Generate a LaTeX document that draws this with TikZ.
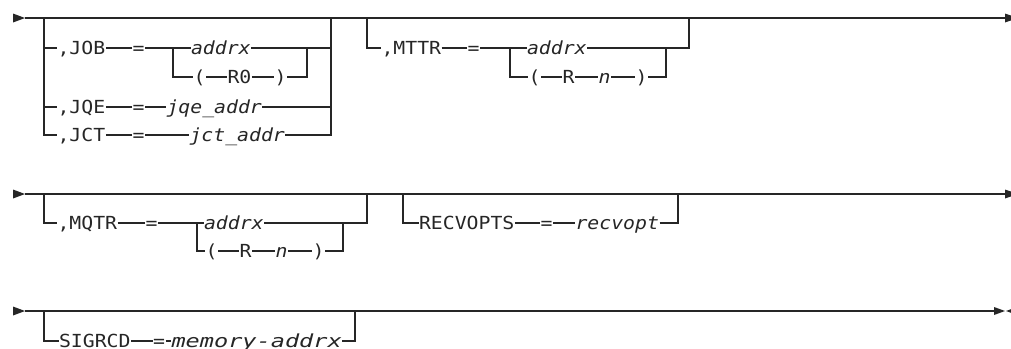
\documentclass[tikz,border=0pt]{standalone}
\usepackage{graphicx}
\usepackage{fontspec}
\newfontfamily\rr{DejaVu Sans Mono}[FakeStretch=1.1]
\begin{document}
\begin{tikzpicture}[x=1pt,y=-1pt,line width=1.1pt,color=black!85,
 kw/.style={inner sep=0pt,text height=13pt,text depth=0pt,anchor=west,font=\rr\fontsize{18}{20}\selectfont},
 vr/.style={kw,font=\rr\itshape\fontsize{18}{20}\selectfont}]
\useasboundingbox (0,0) rectangle (1011,348);
% ---------------- row 1 ----------------
\coordinate (a1) at (25,18); \coordinate (z1) at (1005,18);
\fill (13,13.5) -- (a1) -- (13,22.5) -- cycle;
\draw (a1) -- (z1);
\fill (z1) -- (1005,13.5) -- (1018,18) -- (1005,22.5) -- cycle;
% group 1
\coordinate (g1a) at (44,18); \coordinate (g1b) at (44,135);
\coordinate (g1c) at (331,18); \coordinate (g1d) at (331,135);
\coordinate (i1) at (173,48); \coordinate (i1r) at (307,48);
\node[kw] (job) at (57,48) {,JOB};
\node[kw] (eq1) at (132,48) {=};
\node[vr] (ax1) at (190.5,48) {addrx};
\node[kw] (lp1) at (193,77) {(};
\node[kw] (r0) at (227,77) {R0};
\node[kw] (rp1) at (274,77) {)};
\node[kw] (jqe) at (57,107) {,JQE};
\node[kw] (eq2) at (132,107) {=};
\node[vr] (jqev) at (166,107) {jqe\_addr};
\node[kw] (jct) at (57,135) {,JCT};
\node[kw] (eq3) at (132,135) {=};
\node[vr] (jctv) at (189,135) {jct\_addr};
\draw (g1a) -- (g1b) -- (jct.west);
\draw (g1a |- job.west) -- (job.west);
\draw (g1a |- jqe.west) -- (jqe.west);
\draw (job.east) -- (eq1.west);
\draw (eq1.east) -- (ax1.west);
\draw (i1) -- (i1 |- lp1.west) -- (lp1.west);
\draw (lp1.east) -- (r0.west);
\draw (r0.east) -- (rp1.west);
\draw (rp1.east) -- (i1r |- rp1.east) -- (i1r);
\draw (ax1.east) -- (g1c |- ax1.east);
\draw (jqe.east) -- (eq2.west);
\draw (eq2.east) -- (jqev.west);
\draw (jqev.east) -- (g1c |- jqev.east);
\draw (jct.east) -- (eq3.west);
\draw (eq3.east) -- (jctv.west);
\draw (jctv.east) -- (g1d) -- (g1c);
% group 2
\coordinate (g2a) at (367,18); \coordinate (g2c) at (689,18);
\coordinate (i2) at (510,48); \coordinate (i2r) at (666,48);
\node[kw] (mttr) at (381,48) {,MTTR};
\node[kw] (eq4) at (467,48) {=};
\node[vr] (ax2) at (526.5,48) {addrx};
\node[kw] (lp2) at (528,77) {(};
\node[kw] (r2) at (562,77) {R};
\node[vr] (n2) at (598,77) {n};
\node[kw] (rp2) at (635,77) {)};
\draw (g2a) -- (g2a |- mttr.west) -- (mttr.west);
\draw (mttr.east) -- (eq4.west);
\draw (eq4.east) -- (ax2.west);
\draw (ax2.east) -- (g2c |- ax2.east) -- (g2c);
\draw (i2) -- (i2 |- lp2.west) -- (lp2.west);
\draw (lp2.east) -- (r2.west);
\draw (r2.east) -- (n2.west);
\draw (n2.east) -- (rp2.west);
\draw (rp2.east) -- (i2r |- rp2.east) -- (i2r);
% ---------------- row 2 ----------------
\coordinate (a2) at (25,194); \coordinate (z2) at (1005,194);
\fill (13,189.5) -- (a2) -- (13,198.5) -- cycle;
\draw (a2) -- (z2);
\fill (z2) -- (1005,189.5) -- (1018,194) -- (1005,198.5) -- cycle;
% group 3
\coordinate (g3a) at (44,194); \coordinate (g3c) at (367,194);
\coordinate (i3) at (197,223); \coordinate (i3r) at (343,223);
\node[kw] (mqtr) at (57,223) {,MQTR};
\node[kw] (eq5) at (145,223) {=};
\node[vr] (ax3) at (203.5,223) {addrx};
\node[kw] (lp3) at (205,251) {(};
\node[kw] (r3) at (239,251) {R};
\node[vr] (n3) at (275,251) {n};
\node[kw] (rp3) at (312,251) {)};
\draw (g3a) -- (g3a |- mqtr.west) -- (mqtr.west);
\draw (mqtr.east) -- (eq5.west);
\draw (eq5.east) -- (ax3.west);
\draw (ax3.east) -- (g3c |- ax3.east) -- (g3c);
\draw (i3) -- (i3 |- lp3.west) -- (lp3.west);
\draw (lp3.east) -- (r3.west);
\draw (r3.east) -- (n3.west);
\draw (n3.east) -- (rp3.west);
\draw (rp3.east) -- (i3r |- rp3.east) -- (i3r);
% group 4
\coordinate (g4a) at (403,194); \coordinate (g4c) at (678,194);
\node[kw] (recv) at (418.5,223) {RECVOPTS};
\node[kw] (eq6) at (540,223) {=};
\node[vr] (rv) at (575,223) {recvopt};
\draw (g4a) -- (g4a |- recv.west) -- (recv.west);
\draw (recv.east) -- (eq6.west);
\draw (eq6.east) -- (rv.west);
\draw (rv.east) -- (g4c |- rv.east) -- (g4c);
% ---------------- row 3 ----------------
\coordinate (a3) at (25,311); \coordinate (z3) at (994,311);
\fill (13,306.5) -- (a3) -- (13,315.5) -- cycle;
\draw (a3) -- (z3);
\fill (z3) -- (994,307) -- (1005,311) -- (994,315) -- cycle;
\fill (1006,311) -- (1017,307) -- (1017,315) -- cycle;
% group 5
\coordinate (g5a) at (44,311); \coordinate (g5c) at (355,311);
\coordinate (t1) at (360,311); \coordinate (t2) at (383,311);
\node[kw] (sig) at (58.5,341) {SIGRCD};
\node[kw] (eq7) at (152.5,341) {=};
\node[vr] (mem) at (171,341) {\scalebox{1.19}[1]{memory-addrx}};
\draw (g5a) -- (g5a |- sig.west) -- (sig.west);
\draw (sig.east) -- (eq7.west);
\draw (eq7.east) -- (mem.west);
\draw (mem.east) -- (g5c |- mem.east) -- (g5c);
\draw[line width=1.8pt] (t1) -- (t2);
\end{tikzpicture}
\end{document}
